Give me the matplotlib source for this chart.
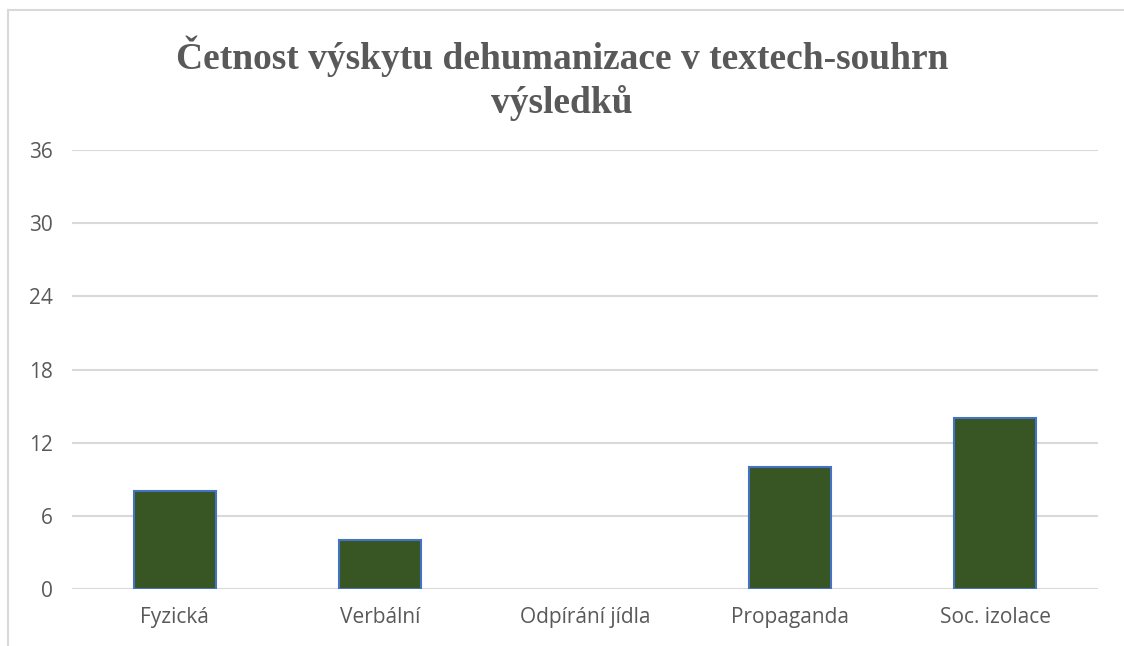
import matplotlib.pyplot as plt
from matplotlib.lines import Line2D

# data
categories = ["Fyzická", "Verbální", "Odpírání jídla", "Propaganda", "Soc. izolace"]
values = [8, 4, 0, 10, 14]
y_ticks = [0, 6, 12, 18, 24, 30, 36]

title = "Četnost výskytu dehumanizace v textech-souhrn\nvýsledků"

fig = plt.figure(figsize=(11.24, 6.46), dpi=100)
fig.patch.set_facecolor("white")

# chart frame: only top and left edges are visible in the screenshot
fx, fy = 8 / 1124, 1 - 10 / 646
fig.add_artist(Line2D([fx, 1], [fy, fy], transform=fig.transFigure,
                      color="#d9d9d9", linewidth=1.5))
fig.add_artist(Line2D([fx, fx], [0, fy], transform=fig.transFigure,
                      color="#d9d9d9", linewidth=1.5))

ax = fig.add_axes([72 / 1124, 1 - 589 / 646, (1098 - 72) / 1124, (589 - 150) / 646])
bars = ax.bar(range(len(categories)), values, width=0.4, color="#375623",
              edgecolor="#4472c4", linewidth=1.5, zorder=3)
for b, v in zip(bars, values):
    if v == 0:
        b.set_linewidth(0)

ax.set_ylim(0, 36)
ax.set_xlim(-0.5, len(categories) - 0.5)
ax.set_yticks(y_ticks)
ax.set_xticks(range(len(categories)))
ax.set_xticklabels(categories)
ax.yaxis.grid(True, color="#d9d9d9", linewidth=1.5, zorder=0)
ax.set_axisbelow(True)
for s in ax.spines.values():
    s.set_visible(False)
ax.tick_params(length=0, labelsize=15, labelcolor="#595959", pad=14)
ax.tick_params(axis="x", pad=13)
for lbl in ax.get_xticklabels() + ax.get_yticklabels():
    lbl.set_family("Open Sans")

fig.text(0.5, 1 - 78 / 646, title, ha="center", va="center",
         family="Liberation Serif", fontweight="bold", fontsize=27,
         color="#595959", linespacing=1.3)

fig.savefig("out.png", dpi=100)
